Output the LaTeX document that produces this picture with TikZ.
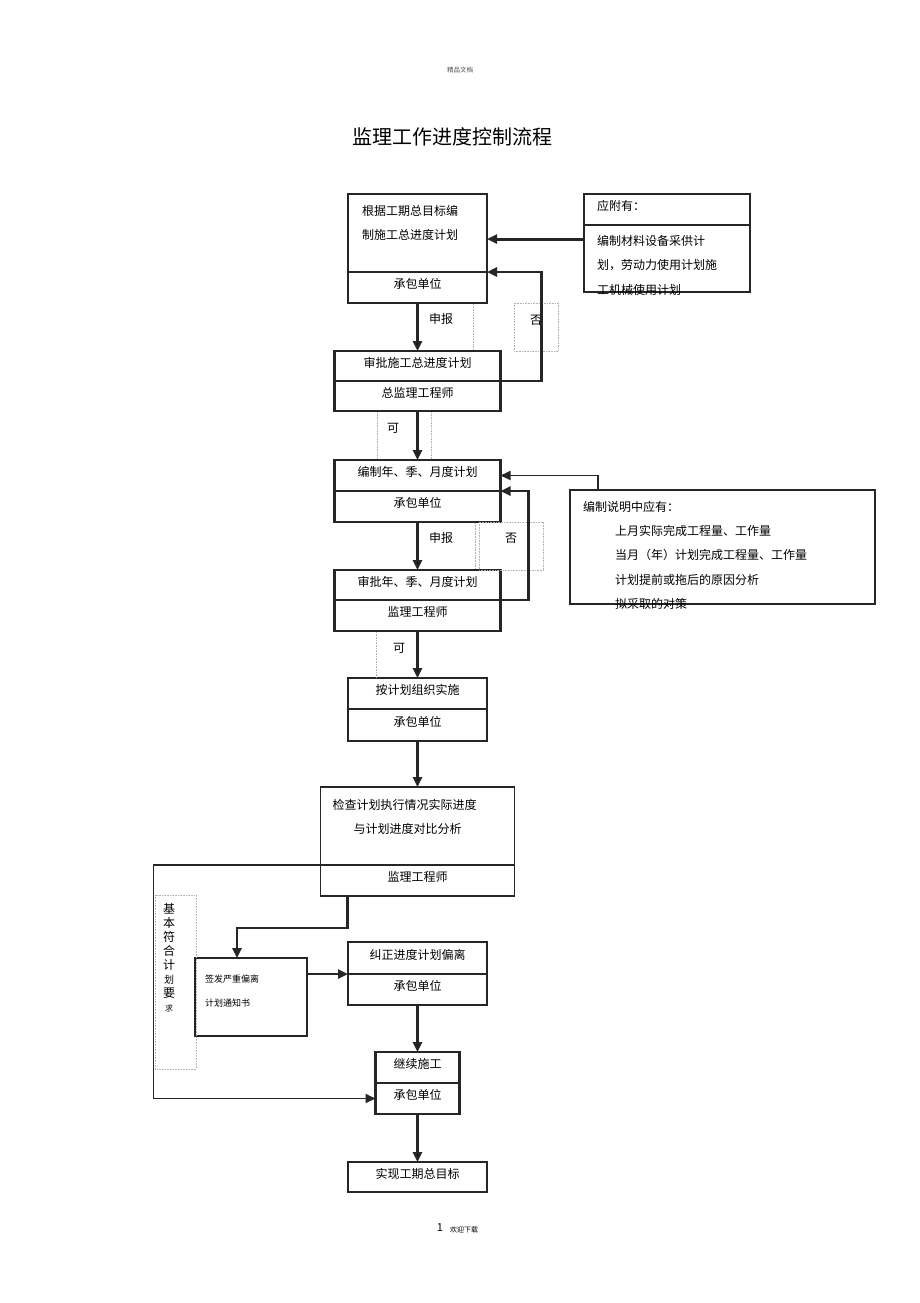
\documentclass[tikz,border=0pt]{standalone}
\usepackage{fontspec}
\setmainfont{Noto Sans CJK SC}
\usetikzlibrary{arrows.meta,positioning}
\newcommand{\lowpad}[1]{\rule[-#1]{0pt}{#1}}
\tikzset{
    box/.style={draw=black!85,line width=1.2pt,inner sep=0pt,outer sep=0pt,minimum width=139pt,minimum height=31pt,font=\fontsize{12}{24}\selectfont},
    part/.style={box,text height=10.5pt,text depth=8.5pt},
    bold part/.style={part,line width=2.2pt},
    lbl/.style={inner sep=0pt,font=\fontsize{12}{24}\selectfont},
    faint/.style={draw=black!30,line width=0.6pt,densely dotted},
}
\begin{document}
\begin{tikzpicture}[x=1pt,y=-1pt,arr/.style={-{Triangle[length=10pt,width=9pt]},line width=2.4pt,draw=black!85}]
\useasboundingbox (0,0) rectangle (920,1303);
\node[lbl,font=\fontsize{6.5}{8}\selectfont,text=black!70] (hd) at (460,70) {精品文档};
\node[lbl,font=\fontsize{20}{24}\selectfont] (ttl) at (452,137) {监理工作进度控制流程};

% main column
\node[box,minimum height=78pt,text width=111pt,align=left] (b1) at (417.5,233) {根据工期总目标编\\制施工总进度计划\lowpad{21pt}};
\node[part,below=0pt of b1] (b1u) {承包单位};
\node[bold part,minimum width=166pt,minimum height=30pt,below=48pt of b1u] (b2) {审批施工总进度计划};
\node[bold part,minimum width=166pt,minimum height=30pt,below=0pt of b2] (b2u) {总监理工程师};
\node[bold part,minimum width=166pt,below=49pt of b2u] (b3) {编制年、季、月度计划};
\node[bold part,minimum width=166pt,below=0pt of b3] (b3u) {承包单位};
\node[bold part,minimum width=166pt,minimum height=30pt,below=48pt of b3u] (b4) {审批年、季、月度计划};
\node[bold part,minimum width=166pt,below=0pt of b4] (b4u) {监理工程师};
\node[part,below=47pt of b4u] (b5) {按计划组织实施};
\node[part,minimum height=32pt,below=0pt of b5] (b5u) {承包单位};
\node[box,minimum width=194pt,minimum height=78pt,text width=170pt,align=left,below=46pt of b5u] (b6) {检查计划执行情况实际进度\\\hspace*{21pt}与计划进度对比分析\lowpad{20pt}};
\node[part,minimum width=194pt,below=0pt of b6] (b6u) {监理工程师};
\node[part,minimum height=32pt,below=46pt of b6u] (b8) {纠正进度计划偏离};
\node[part,below=0pt of b8] (b8u) {承包单位};
\node[bold part,minimum width=84pt,below=47pt of b8u] (b9) {继续施工};
\node[bold part,minimum width=84pt,below=0pt of b9] (b9u) {承包单位};
\node[part,minimum height=30pt,below=48pt of b9u] (b10) {实现工期总目标};
\node[box,line width=2.2pt,minimum width=112pt,minimum height=78pt,text width=92pt,align=left,font=\fontsize{9}{24}\selectfont] (b7) at (251,997) {签发严重偏离\\计划通知书\lowpad{13pt}};

% side boxes
\node[part,minimum width=166pt,text width=140pt,align=left] (fjt) at (667,209.5) {应附有：};
\node[box,minimum width=166pt,minimum height=67pt,below=0pt of fjt] (fjb) {};
\node[lbl,anchor=north west,align=left,font=\fontsize{12}{24.5}\selectfont] (fjtx) at (597,235) {编制材料设备采供计\\划，劳动力使用计划施\\工机械使用计划};
\node[box,minimum width=305pt,minimum height=114pt] (sm) at (722.5,547) {};
\node[lbl,anchor=north west,align=left,font=\fontsize{12}{24.3}\selectfont] (smtx) at (583,501) {编制说明中应有：\\\hspace*{32pt}上月实际完成工程量、工作量\\\hspace*{32pt}当月（年）计划完成工程量、工作量\\\hspace*{32pt}计划提前或拖后的原因分析\\\hspace*{32pt}拟采取的对策};

% labels
\node[lbl] (sb1) at (441,319) {申报};
\node[lbl] (no1) at (536,320) {否};
\node[lbl] (ok1) at (393,428) {可};
\node[lbl] (sb2) at (441,538) {申报};
\node[lbl] (no2) at (511,538) {否};
\node[lbl] (ok2) at (399,648) {可};
\node[lbl,align=center,font=\fontsize{12}{14}\selectfont] (jb) at (169,958) {基\\本\\符\\合\\计\\{\fontsize{10}{14}\selectfont 划}\\要\\{\fontsize{8}{14}\selectfont 求}};
\node[lbl,font=\fontsize{11}{12}\selectfont] (pg) at (440,1228) {1};
\node[lbl,font=\fontsize{7}{8}\selectfont] (xz) at (464,1230) {欢迎下载};

% faint text frames
\draw[faint] (473,304) -- (473,350);
\draw[faint] (514,303) rectangle (558,351);
\draw[faint] (377,412) -- (377,459) (431,412) -- (431,459);
\draw[faint] (475,523) -- (475,569);
\draw[faint] (479,522) rectangle (543,570);
\draw[faint] (376,632) -- (376,677);
\draw[faint] (155,895) rectangle (196,1069);

\path[arr] (b1u) edge (b2)
    (b2u) edge (b3)
    (b3u) edge (b4)
    (b4u) edge (b5)
    (b5u) edge (b6)
    (b8u) edge (b9)
    (b9u) edge (b10);
\draw[arr,line width=3pt] (fjb.west |- b1.-5) -- (b1.-5);
\draw[arr] (b2.south east) -- ++(41pt,0) |- (b1.south east);
\draw[arr] (b4.south east) -- ++(28pt,0) |- (b3.south east);
\draw[arr,line width=1.8pt] ([xshift=28pt]sm.north west) |- (b3.east);
\draw[arr] ([xshift=27pt]b6u.south west) -- ++(0,-32pt) -| ([xshift=42pt]b7.north west);
\draw[arr] (b7.east |- b8.south west) -- (b8.south west);
\draw[arr,line width=1.8pt] (b6u.north west) -- ++(-167pt,0) |- (b9u.west);
\end{tikzpicture}
\end{document}
